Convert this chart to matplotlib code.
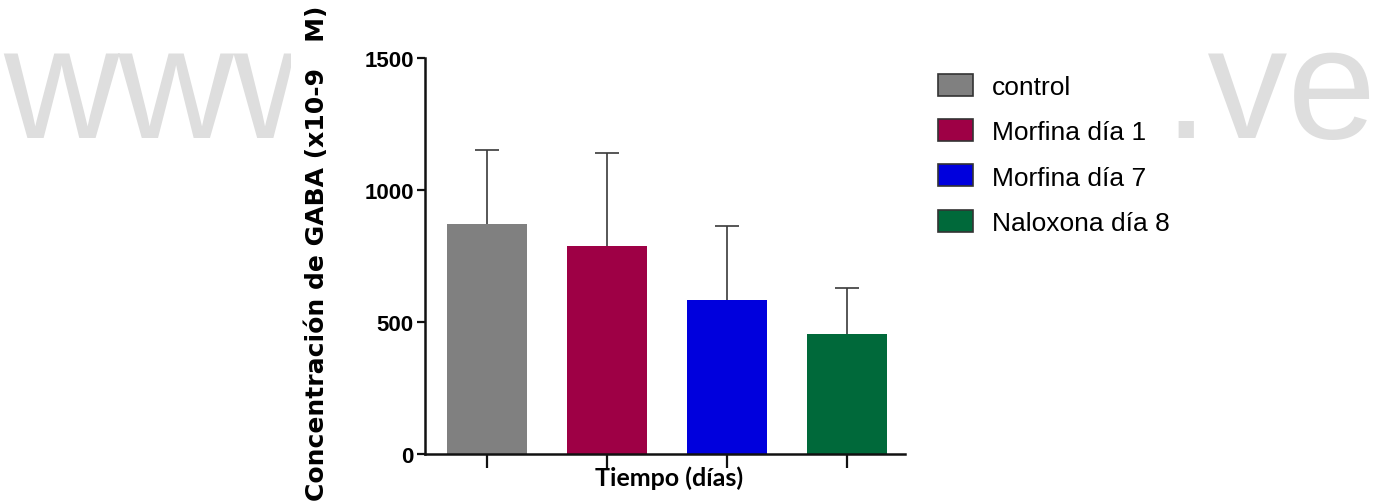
import matplotlib
matplotlib.use("Agg")
import matplotlib.pyplot as plt
from matplotlib.patches import Rectangle

# Data
groups = ["control", "Morfina día 1", "Morfina día 7", "Naloxona día 8"]
means = [871, 789, 585, 456]
sd = [279, 353, 278, 173]
colors = ["#808080", "#9E0045", "#0000DD", "#00693A"]
yticks = [0, 500, 1000, 1500]

W, H = 1382, 502
fig = plt.figure(figsize=(W / 100, H / 100), dpi=100)

# Background watermark, partly covered by the white chart panel
wm_color = "#dedede"
fig.text(3 / W, 1 - 138 / H, "www", fontsize=115, color=wm_color,
         family="Liberation Sans", va="baseline", ha="left", zorder=-3)
fig.text(1163 / W, 1 - 138 / H, ".ve", fontsize=115, color=wm_color,
         family="Liberation Sans", va="baseline", ha="left", zorder=-3)
fig.patches.append(Rectangle((291 / W, 0), (1174 - 291) / W, 1,
                             transform=fig.transFigure, facecolor="white",
                             edgecolor="none", zorder=-2))

ax = fig.add_axes([425 / W, 1 - 455 / H, 480 / W, 396 / H])
ax.patch.set_alpha(0)

x = list(range(len(groups)))
ax.bar(x, means, width=0.667, color=colors, edgecolor="none", zorder=2)
_, caps, _ = ax.errorbar(x, means, yerr=[[0] * len(sd), sd], fmt="none",
                         ecolor="#3a3a3a", elinewidth=1.2, capsize=8.5,
                         capthick=1.2, zorder=3)
# keep only the upper caps
caps[0].remove()

ax.set_xlim(-0.52, 3.48)
ax.set_ylim(0, 1500)
ax.set_yticks(yticks)
ax.set_xticks(x)
ax.set_xticklabels([])

for side in ("top", "right"):
    ax.spines[side].set_visible(False)
for side in ("left", "bottom"):
    ax.spines[side].set_linewidth(1.8)
    ax.spines[side].set_color("#111111")

ax.tick_params(axis="y", length=6, width=1.6, color="#111111", pad=2)
ax.tick_params(axis="x", length=10, width=1.6, color="#111111")
for lab in ax.get_yticklabels():
    lab.set_fontfamily("Liberation Sans")
    lab.set_fontweight("bold")
    lab.set_fontsize(16)

ax.set_ylabel("Concentración de GABA (x10-9   M)", fontsize=18,
              fontweight="bold", family="DejaVu Sans")
ax.yaxis.set_label_coords(-0.2, 0.51)
ax.set_xlabel("Tiempo (días)", fontsize=18, fontweight="bold", family="Lato")
ax.xaxis.set_label_coords(0.508, -0.03)
ax.xaxis.label.set_va("top")

handles = [Rectangle((0, 0), 1, 1, facecolor=c, edgecolor="#333333",
                     linewidth=1.2) for c in colors]
fig.legend(handles, groups, loc="upper left",
           bbox_to_anchor=(938 / W, 1 - 75 / H), frameon=False,
           borderpad=0, borderaxespad=0, handlelength=1.33,
           handleheight=0.91, handletextpad=0.72, labelspacing=0.76,
           prop={"family": "Liberation Sans", "size": 19})

fig.savefig("out.png", dpi=100, facecolor="white")
